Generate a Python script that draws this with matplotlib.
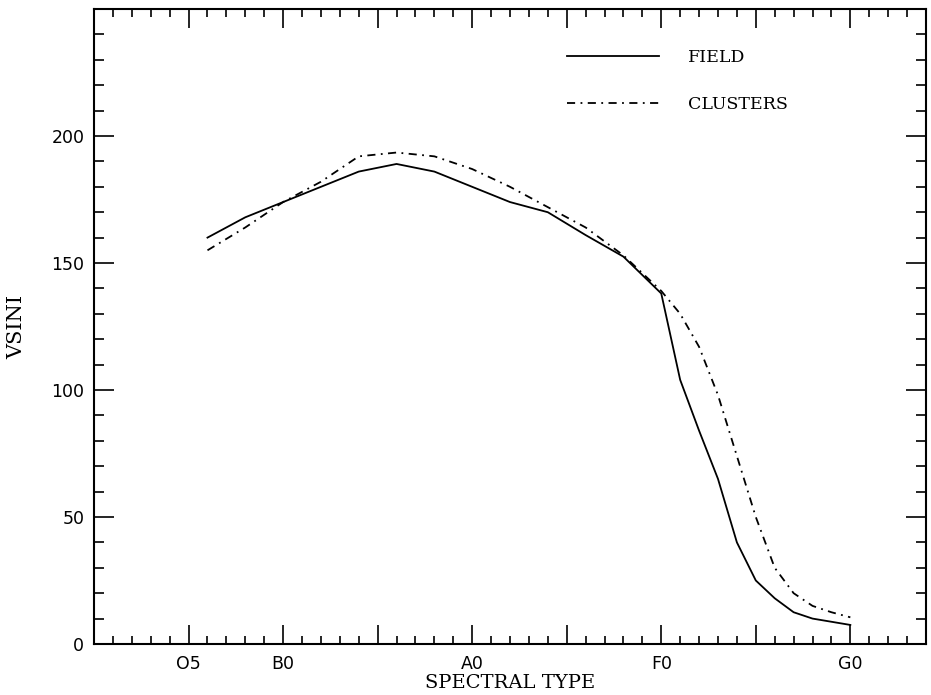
"""
Mean v sin i against spectral type, field stars vs cluster stars.
Spectral type is coded as a number: O5=5, B0=10, A0=20, F0=30, G0=40.
"""
import matplotlib
matplotlib.use("Agg")
import matplotlib.pyplot as plt
from matplotlib.ticker import FixedLocator, MultipleLocator

# --- data --------------------------------------------------------------
field_type = [6, 8, 10, 12, 14, 16, 18, 20, 22, 24, 26, 28, 30,
              31, 32, 33, 34, 35, 36, 37, 38, 40]
field_vsini = [160, 168, 174, 180, 186, 189, 186, 180, 174, 170, 161, 152.5, 138,
               104, 84, 65, 40, 25, 18, 12.5, 10, 7.5]

cluster_type = [6, 8, 10, 12, 14, 16, 18, 20, 22, 24, 26, 28, 30,
                31, 32, 33, 34, 35, 36, 37, 38, 39, 40]
cluster_vsini = [155, 164, 174, 182, 192, 193.5, 192, 187, 180, 172, 164, 153, 139,
                 130, 117, 98, 74, 50, 30, 20, 15, 12.5, 10.5]

type_ticks = [5, 10, 20, 30, 40]
type_labels = ["O5", "B0", "A0", "F0", "G0"]
vsini_ticks = [0, 50, 100, 150, 200]

SERIF = "DejaVu Serif"
FS = 12.5

fig = plt.figure(figsize=(9.31, 6.95), dpi=100)
ax = fig.add_axes([0.101, 0.0734, 0.8936, 0.9136])

ax.plot(field_type, field_vsini, color="black", lw=1.3, label="FIELD")
ax.plot(cluster_type, cluster_vsini, color="black", lw=1.3,
        linestyle=(0, (4.5, 3, 1, 3)), label="CLUSTERS")

ax.set_xlim(0, 44)
ax.set_ylim(0, 250)

# x: major every 5 (only spectral classes labelled), minor every 1
xmajor = list(range(0, 45, 5))
ax.xaxis.set_major_locator(FixedLocator(xmajor))
lab = dict(zip(type_ticks, type_labels))
ax.set_xticklabels([lab.get(t, "") for t in xmajor])
ax.xaxis.set_minor_locator(MultipleLocator(1))

ax.yaxis.set_major_locator(FixedLocator(vsini_ticks + [250]))
ax.set_yticklabels([str(v) for v in vsini_ticks] + [""])
ax.yaxis.set_minor_locator(MultipleLocator(10))

ax.tick_params(which="both", direction="in", top=True, right=True,
               labelsize=FS, colors="black")
ax.tick_params(axis="y", which="major", length=14.5, width=1.2, pad=7)
ax.tick_params(axis="y", which="minor", length=7.2, width=1.2)
ax.tick_params(axis="x", which="major", length=13.7, width=1.2, pad=8)
ax.tick_params(axis="x", which="minor", length=5.8, width=1.2)
for s in ax.spines.values():
    s.set_linewidth(1.5)

ax.set_xlabel("SPECTRAL TYPE", family=SERIF, fontsize=14, labelpad=1)
ax.set_ylabel("VSINI", family=SERIF, fontsize=15, labelpad=18)

leg = ax.legend(loc="upper left", bbox_to_anchor=(0.568, 0.937), frameon=False,
                prop={"family": SERIF, "size": FS}, handlelength=5.3,
                handletextpad=1.7, labelspacing=1.75, borderpad=0, borderaxespad=0)

fig.savefig("out.png", dpi=100)
